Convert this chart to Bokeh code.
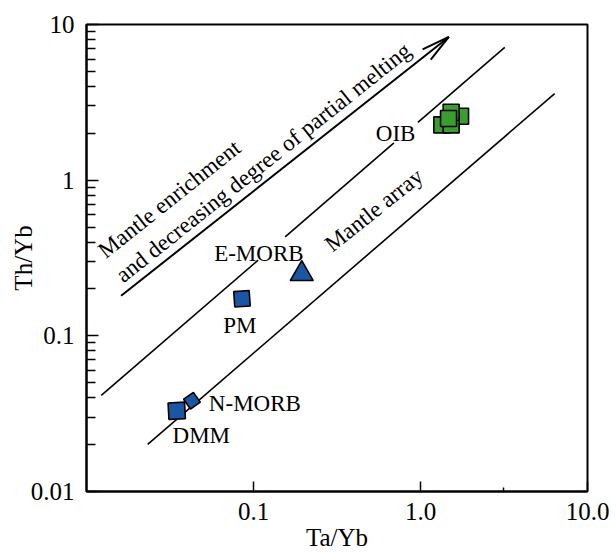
import math
from bokeh.plotting import figure
from bokeh.models import FixedTicker, Range1d, CustomJSTickFormatter
from bokeh.core.properties import value
from bokeh.embed import file_html
from bokeh.resources import INLINE

# ---------------- data ----------------
mantle_names = ["DMM", "N-MORB", "PM", "E-MORB"]
mantle_ta_yb = [0.0347, 0.0428, 0.0853, 0.1945]
mantle_th_yb = [0.0330, 0.0383, 0.173, 0.250]
mantle_marker = ["square", "square", "square", "triangle"]

oib_ta_yb = [1.737, 1.342, 1.526, 1.526, 1.472]
oib_th_yb = [2.574, 2.264, 2.264, 2.731, 2.488]

# upper boundary of the mantle array (three pieces, gaps left for labels)
upper_x0 = [0.01226, 0.1547, 0.9649]
upper_y0 = [0.0414, 0.4326, 2.353]
upper_x1 = [0.1067, 0.6934, 3.195]
upper_y1 = [0.3068, 1.734, 7.12]
# lower boundary of the mantle array
lower_x = [0.02325, 6.36]
lower_y = [0.0201, 3.60]
# enrichment arrow
arrow_x = [0.01612, 1.478]
arrow_y = [0.181, 8.32]

label_text = ["E-MORB", "PM", "N-MORB", "DMM", "OIB"]
label_x = [0.1077, 0.0829, 0.1019, 0.0487, 0.7097]
label_y = [0.3377, 0.1162, 0.0368, 0.0230, 1.994]

rot_text = ["Mantle enrichment", "and decreasing degree of partial melting", "Mantle array"]
rot_x = [0.03134, 0.1147, 0.5265]
rot_y = [0.7567, 1.30, 0.643]

x_ticks = [0.1, 1, 10]
x_tick_labels = ["0.1", "1.0", "10.0"]
x_minor_ticks = [3.16]
y_ticks = [0.01, 0.1, 1, 10]
y_tick_labels = ["0.01", "0.1", "1", "10"]
y_minor_ticks = [k * 10.0 ** e for e in (-2, -1, 0) for k in range(2, 10)]

# ---------------- styling ----------------
W, H = 616, 553
BL, BR, BT, BB = 86, 29, 24, 61
BLUE = "#1b56a4"
GREEN = "#3a9d2f"
SERIF = "Liberation Serif"

p = figure(width=W, height=H, x_axis_type="log", y_axis_type="log",
           x_range=Range1d(0.01, 10), y_range=Range1d(0.01, 10),
           output_backend="svg", toolbar_location=None,
           min_border_left=BL, min_border_right=BR,
           min_border_top=BT, min_border_bottom=BB,
           x_axis_label="Ta/Yb", y_axis_label="Th/Yb")
p.grid.visible = False
p.outline_line_color = "black"
p.outline_line_width = 2
p.background_fill_color = "white"
p.border_fill_color = "white"

fmt_code = """
let best = 0, bd = Infinity;
for (let i = 0; i < tk.length; i++) {
  const d = Math.abs(Math.log10(tick) - Math.log10(tk[i]));
  if (d < bd) { bd = d; best = i; }
}
return lb[best];
"""

xa = p.xaxis[0]
ya = p.yaxis[0]
xa.ticker = FixedTicker(ticks=x_ticks, minor_ticks=x_minor_ticks)
ya.ticker = FixedTicker(ticks=y_ticks, minor_ticks=y_minor_ticks)
xa.formatter = CustomJSTickFormatter(args=dict(tk=x_ticks, lb=x_tick_labels), code=fmt_code)
ya.formatter = CustomJSTickFormatter(args=dict(tk=y_ticks, lb=y_tick_labels), code=fmt_code)

for ax in (xa, ya):
    ax.major_tick_out = 0
    ax.minor_tick_out = 0
    ax.axis_line_width = 2
    ax.axis_line_color = "black"
    ax.major_tick_line_width = 1.5
    ax.minor_tick_line_width = 1.5
    ax.major_tick_line_color = "black"
    ax.minor_tick_line_color = "black"
    ax.major_label_text_font = SERIF
    ax.major_label_text_font_size = "25px"
    ax.major_label_text_color = "black"
    ax.axis_label_text_font = SERIF
    ax.axis_label_text_font_size = "25px"
    ax.axis_label_text_font_style = "normal"
    ax.axis_label_text_color = "black"

xa.major_tick_in = 10
xa.minor_tick_in = 4
xa.major_label_standoff = 11
xa.axis_label_standoff = 1
ya.major_tick_in = 12
ya.minor_tick_in = 9
ya.major_label_standoff = 12
ya.axis_label_standoff = -9

# ---------------- lines ----------------
p.segment(x0=upper_x0, y0=upper_y0, x1=upper_x1, y1=upper_y1,
          line_color="black", line_width=1.6)
p.line(lower_x, lower_y, line_color="black", line_width=1.6)
p.line(arrow_x, arrow_y, line_color="black", line_width=2)

# open arrow head, narrow, built from the arrow's own end points
ppd_x = (W - BL - BR) / 3.0
ppd_y = (H - BT - BB) / 3.0
lx0, ly0 = math.log10(arrow_x[0]), math.log10(arrow_y[0])
lx1, ly1 = math.log10(arrow_x[1]), math.log10(arrow_y[1])
back = math.atan2(-(ly1 - ly0) * ppd_y, -(lx1 - lx0) * ppd_x)
head_len, head_half = 29, math.radians(13)
head_x, head_y = [], []
for s in (1, -1):
    a = back + s * head_half
    head_x.append(10 ** (lx1 + head_len * math.cos(a) / ppd_x))
    head_y.append(10 ** (ly1 + head_len * math.sin(a) / ppd_y))
p.segment(x0=[arrow_x[1]] * 2, y0=[arrow_y[1]] * 2, x1=head_x, y1=head_y,
          line_color="black", line_width=2)

# ---------------- markers ----------------
marker_sizes = [16.5, 12, 15.5, 23]
marker_angles = [math.radians(a) for a in (3, 35, 4, 0)]
p.scatter(x=mantle_ta_yb, y=mantle_th_yb, marker=mantle_marker,
          size=marker_sizes, angle=marker_angles,
          fill_color=BLUE, line_color="black", line_width=1.6)
p.scatter(x=oib_ta_yb, y=oib_th_yb, marker="square", size=16,
          fill_color=GREEN, line_color="black", line_width=1.6)

# ---------------- texts ----------------
p.text(x=label_x, y=label_y, text=label_text,
       text_font=value(SERIF), text_font_size=value("23px"),
       text_align="center", text_baseline="middle", text_color="black")
p.text(x=rot_x, y=rot_y, text=rot_text, angle=math.radians(38.5),
       text_font=value(SERIF), text_font_size=value("23px"),
       text_align="center", text_baseline="middle", text_color="black")

open("out.html", "w").write(file_html(p, INLINE))
